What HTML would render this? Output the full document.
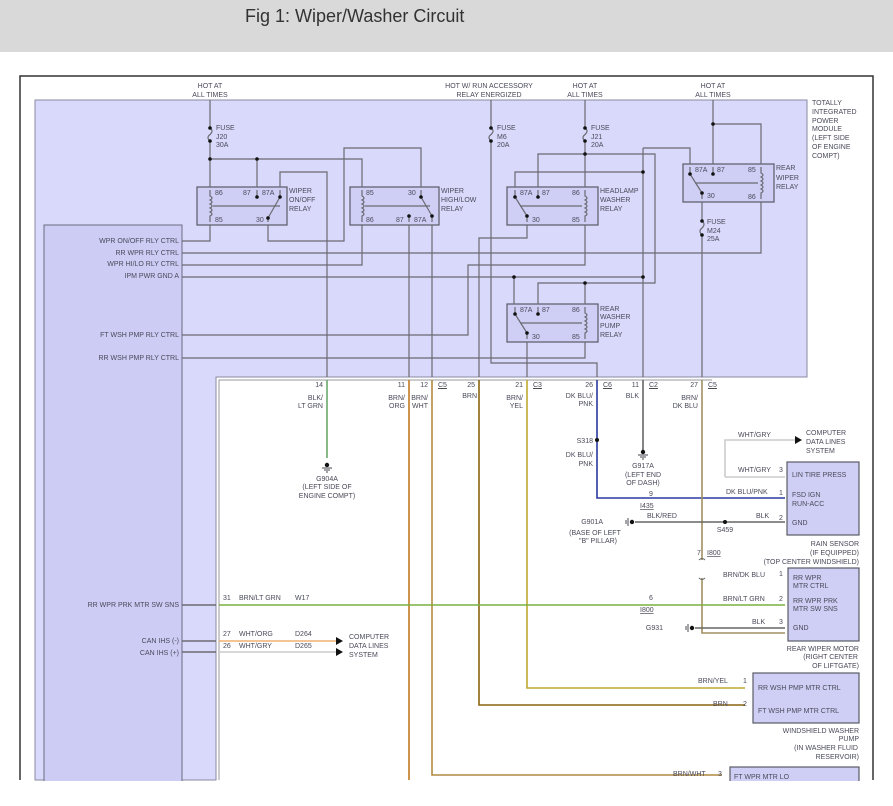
<!DOCTYPE html>
<html><head><meta charset="utf-8"><style>
body{margin:0;background:#fff;width:893px;height:806px;overflow:hidden;font-family:"Liberation Sans",sans-serif}
#hd{position:absolute;left:0;top:0;width:893px;height:52px;background:#d9d9d9}
#hd span{position:absolute;left:245px;top:6px;font-size:18px;color:#333}
svg{position:absolute;left:0;top:0}
text{font-family:"Liberation Sans",sans-serif;font-size:7px;fill:#4a4a5a}
.w{fill:none;stroke:#6a6a72;stroke-width:1.2}
.b{fill:#cfcff6;stroke:#5a5a66;stroke-width:1.2}
.d{fill:#111}
</style></head><body>
<div id="hd"><span>Fig 1: Wiper/Washer Circuit</span></div>
<svg width="893" height="806" viewBox="0 0 893 806">
<!-- frame -->
<path d="M20,780 V76 H873 V780" fill="none" stroke="#333" stroke-width="1.5"/>
<!-- module -->
<path d="M35,100 H807 V377 H216 V780 H35 Z" fill="#d9d9fb" stroke="#8a8aa0" stroke-width="1"/>
<rect x="44" y="225" width="138" height="560" fill="#ccccf5" stroke="#6a6a80" stroke-width="1"/>
<!-- top labels -->
<g text-anchor="middle">
<text x="210" y="88">HOT AT</text><text x="210" y="97">ALL TIMES</text>
<text x="489" y="88">HOT W/ RUN ACCESSORY</text><text x="489" y="97">RELAY ENERGIZED</text>
<text x="585" y="88">HOT AT</text><text x="585" y="97">ALL TIMES</text>
<text x="713" y="88">HOT AT</text><text x="713" y="97">ALL TIMES</text>
</g>
<g><text x="812" y="105">TOTALLY</text><text x="812" y="114">INTEGRATED</text><text x="812" y="123">POWER</text><text x="812" y="131">MODULE</text><text x="812" y="140">(LEFT SIDE</text><text x="812" y="149">OF ENGINE</text><text x="812" y="158">COMPT)</text></g>
<!-- relay boxes -->
<rect class="b" x="197" y="187" width="90" height="38"/>
<rect class="b" x="350" y="187" width="89" height="38"/>
<rect class="b" x="507" y="187" width="91" height="38"/>
<rect class="b" x="683" y="164" width="91" height="38"/>
<rect class="b" x="507" y="304" width="91" height="38"/>
<g class="w" stroke-width="0.8">
<path d="M213,206 H280"/><path d="M365,206 H430"/><path d="M520,206 H582"/><path d="M695,183 H758"/><path d="M520,323 H582"/>
</g>
<!-- coils -->
<g class="w" stroke-width="1">
<path d="M210,190 v6 q4,2 0,4 q4,2 0,4 q4,2 0,4 q4,2 0,4 q4,2 0,4 v6"/>
<path d="M362,190 v6 q4,2 0,4 q4,2 0,4 q4,2 0,4 q4,2 0,4 q4,2 0,4 v6"/>
<path d="M585,190 v6 q4,2 0,4 q4,2 0,4 q4,2 0,4 q4,2 0,4 q4,2 0,4 v6"/>
<path d="M761,167 v6 q4,2 0,4 q4,2 0,4 q4,2 0,4 q4,2 0,4 q4,2 0,4 v6"/>
<path d="M585,307 v6 q4,2 0,4 q4,2 0,4 q4,2 0,4 q4,2 0,4 q4,2 0,4 v6"/>
</g>
<!-- switches -->
<g class="w" stroke-width="1.2">
<path d="M268,218 L280,197 M257,198 v-8 M280,197 v-7 M268,218 v4"/>
<path d="M421,197 L432,216 M421,197 v-7 M409,216 v6 M432,216 v6"/>
<path d="M515,197 L527,216 M515,197 v-7 M538,198 v-8 M527,216 v6"/>
<path d="M690,174 L702,193 M690,174 v-7 M713,175 v-8 M702,193 v6"/>
<path d="M515,314 L527,333 M515,314 v-7 M538,315 v-8 M527,333 v6"/>
</g>
<g class="d">
<circle cx="268" cy="218" r="1.8"/><circle cx="280" cy="197" r="1.8"/><circle cx="257" cy="197" r="1.8"/>
<circle cx="421" cy="197" r="1.8"/><circle cx="432" cy="216" r="1.8"/><circle cx="409" cy="216" r="1.8"/>
<circle cx="515" cy="197" r="1.8"/><circle cx="527" cy="216" r="1.8"/><circle cx="538" cy="197" r="1.8"/>
<circle cx="690" cy="174" r="1.8"/><circle cx="702" cy="193" r="1.8"/><circle cx="713" cy="174" r="1.8"/>
<circle cx="515" cy="314" r="1.8"/><circle cx="527" cy="333" r="1.8"/><circle cx="538" cy="314" r="1.8"/>
</g>
<!-- pin numbers -->
<g>
<text x="215" y="195">86</text><text x="243" y="195">87</text><text x="262" y="195">87A</text><text x="215" y="222">85</text><text x="256" y="222">30</text>
<text x="366" y="195">85</text><text x="408" y="195">30</text><text x="366" y="222">86</text><text x="396" y="222">87</text><text x="414" y="222">87A</text>
<text x="520" y="195">87A</text><text x="542" y="195">87</text><text x="572" y="195">86</text><text x="532" y="222">30</text><text x="572" y="222">85</text>
<text x="695" y="172">87A</text><text x="717" y="172">87</text><text x="748" y="172">85</text><text x="707" y="198">30</text><text x="748" y="199">86</text>
<text x="520" y="312">87A</text><text x="542" y="312">87</text><text x="572" y="312">86</text><text x="532" y="339">30</text><text x="572" y="339">85</text>
</g>
<g>
<text x="289" y="193">WIPER</text><text x="289" y="202">ON/OFF</text><text x="289" y="211">RELAY</text>
<text x="441" y="193">WIPER</text><text x="441" y="202">HIGH/LOW</text><text x="441" y="211">RELAY</text>
<text x="600" y="193">HEADLAMP</text><text x="600" y="202">WASHER</text><text x="600" y="211">RELAY</text>
<text x="776" y="170">REAR</text><text x="776" y="180">WIPER</text><text x="776" y="189">RELAY</text>
<text x="600" y="311">REAR</text><text x="600" y="319">WASHER</text><text x="600" y="328">PUMP</text><text x="600" y="337">RELAY</text>
<text x="216" y="130">FUSE</text><text x="216" y="139">J20</text><text x="216" y="147">30A</text>
<text x="497" y="130">FUSE</text><text x="497" y="139">M6</text><text x="497" y="147">20A</text>
<text x="591" y="130">FUSE</text><text x="591" y="139">J21</text><text x="591" y="147">20A</text>
<text x="707" y="224">FUSE</text><text x="707" y="233">M24</text><text x="707" y="241">25A</text>
</g>
<!-- module wires -->
<g class="w">
<path d="M210,100 V128 M210,141 V187 M210,128 q4,3 0,6.5 q-4,3 0,6.5"/>
<path d="M210,159 H362 V187 M257,159 V187"/>
<path d="M280,187 V172 H327 V377"/>
<path d="M268,225 V241 H344 V148 H421 V187"/>
<path d="M210,225 V241 H182"/>
<path d="M362,225 V265 H182"/>
<path d="M409,225 V377 M432,225 V377"/>
<path d="M182,253 H761 V202"/>
<path d="M182,277 H643 M514,277 V304"/>
<path d="M491,100 V128 M491,141 V363 H597 V377 M491,128 q4,3 0,6.5 q-4,3 0,6.5"/>
<path d="M585,100 V128 M585,141 V187 M585,128 q4,3 0,6.5 q-4,3 0,6.5"/>
<path d="M538,187 V154 H655 V283 H538 V304 M585,283 V304"/>
<path d="M515,187 V172 H643 M643,148 V377 M643,148 H690 V164"/>
<path d="M527,225 V238 H479 V377"/>
<path d="M585,225 V265 H468 V335 H182"/>
<path d="M713,100 V164 M713,124 H761 V164"/>
<path d="M702,202 V221 M702,235 V377 M702,221 q4,3 0,7 q-4,3 0,7"/>
<path d="M527,342 V377"/>
<path d="M585,342 V358 H182"/>
<path d="M182,605 H216 M182,641 H216 M182,652 H216" stroke-width="1.4"/>
</g>
<g class="d">
<circle cx="210" cy="128" r="1.8"/><circle cx="210" cy="141" r="1.8"/><circle cx="491" cy="128" r="1.8"/><circle cx="491" cy="141" r="1.8"/>
<circle cx="585" cy="128" r="1.8"/><circle cx="585" cy="141" r="1.8"/><circle cx="702" cy="221" r="1.8"/><circle cx="702" cy="235" r="1.8"/>
<circle cx="210" cy="159" r="1.8"/><circle cx="257" cy="159" r="1.8"/><circle cx="585" cy="154" r="1.8"/><circle cx="643" cy="172" r="1.8"/>
<circle cx="514" cy="277" r="1.8"/><circle cx="643" cy="277" r="1.8"/><circle cx="585" cy="283" r="1.8"/><circle cx="713" cy="124" r="1.8"/>
</g>
<!-- left labels -->
<g text-anchor="end">
<text x="179" y="243">WPR ON/OFF RLY CTRL</text><text x="179" y="255">RR WPR RLY CTRL</text><text x="179" y="266">WPR HI/LO RLY CTRL</text><text x="179" y="278">IPM PWR GND A</text>
<text x="179" y="337">FT WSH PMP RLY CTRL</text><text x="179" y="360">RR WSH PMP RLY CTRL</text>
<text x="179" y="607">RR WPR PRK MTR SW SNS</text><text x="179" y="643">CAN IHS (-)</text><text x="179" y="655">CAN IHS (+)</text>
</g>
<!-- connector line -->
<path d="M219,780 V380 H712" fill="none" stroke="#9a9aa0" stroke-width="1"/>
<g text-anchor="end">
<text x="323" y="387">14</text><text x="405" y="387">11</text><text x="428" y="387">12</text><text x="475" y="387">25</text><text x="523" y="387">21</text><text x="593" y="387">26</text><text x="639" y="387">11</text><text x="698" y="387">27</text>
<text x="323" y="400">BLK/</text><text x="323" y="408">LT GRN</text><text x="405" y="400">BRN/</text><text x="405" y="408">ORG</text><text x="428" y="400">BRN/</text><text x="428" y="408">WHT</text>
<text x="477" y="398">BRN</text><text x="523" y="400">BRN/</text><text x="523" y="408">YEL</text><text x="593" y="398">DK BLU/</text><text x="593" y="406">PNK</text><text x="639" y="398">BLK</text>
<text x="698" y="400">BRN/</text><text x="698" y="408">DK BLU</text>
<text x="593" y="457">DK BLU/</text><text x="593" y="466">PNK</text><text x="593" y="443">S318</text>
</g>
<g text-decoration="underline"><text x="438" y="387">C5</text><text x="533" y="387">C3</text><text x="603" y="387">C6</text><text x="649" y="387">C2</text><text x="708" y="387">C5</text></g>
<!-- colored wires -->
<g fill="none" stroke-width="1.6">
<path d="M327,380 V458" stroke="#6aa86a"/>
<path d="M409,380 V780" stroke="#c07a20"/>
<path d="M432,380 V775 H722" stroke="#b08a40"/>
<path d="M479,380 V705 H745" stroke="#8a6410"/>
<path d="M527,380 V688 H745" stroke="#c0a830"/>
<path d="M597,380 V498 H785" stroke="#2a3aa0"/>
<path d="M643,380 V450" stroke="#666"/>
<path d="M702,380 V560 M702,578 V633 H785" stroke="#a09060"/>
<path d="M219,605 H785" stroke="#7ab040"/>
<path d="M219,641 H340" stroke="#f0b070"/>
<path d="M219,652 H340" stroke="#ccc"/>
<path d="M725,477 V440 H795 M725,477 H785" stroke="#ccc"/>
<path d="M635,522 H785" stroke="#666"/>
<path d="M695,628 H785" stroke="#666"/>
</g>
<g class="d"><circle cx="597" cy="440" r="2"/><circle cx="725" cy="522" r="2"/><circle cx="327" cy="465" r="2.2"/><circle cx="643" cy="452" r="2.2"/><circle cx="632" cy="522" r="2.2"/><circle cx="692" cy="628" r="2.2"/>
<path d="M336,637 l7,4 l-7,4 Z M336,648 l7,4 l-7,4 Z M795,436 l7,4 l-7,4 Z"/></g>
<g class="w" stroke-width="0.8"><path d="M322,468 h10 M324,470 h6 M326,472 h2 M638,455 h10 M640,457 h6 M642,459 h2 M628,518 v8 M626,520 v4 M688,624 v8 M686,626 v4"/></g>
<g text-anchor="middle"><text x="327" y="481">G904A</text><text x="327" y="489">(LEFT SIDE OF</text><text x="327" y="498">ENGINE COMPT)</text>
<text x="643" y="468">G917A</text><text x="643" y="477">(LEFT END</text><text x="643" y="485">OF DASH)</text>
<text x="595" y="535">(BASE OF LEFT</text><text x="598" y="543">"B" PILLAR)</text><text x="725" y="532">S459</text></g>
<g>
<text x="603" y="524" text-anchor="end">G901A</text><text x="663" y="630" text-anchor="end">G931</text>
<text x="647" y="518">BLK/RED</text><text x="756" y="518">BLK</text><text x="726" y="494">DK BLU/PNK</text><text x="738" y="437">WHT/GRY</text><text x="738" y="472">WHT/GRY</text>
<text x="806" y="435">COMPUTER</text><text x="806" y="444">DATA LINES</text><text x="806" y="453">SYSTEM</text>
<text x="649" y="496">9</text><text x="640" y="508" text-decoration="underline">I435</text>
<text x="697" y="555">7</text><text x="707" y="555" text-decoration="underline">I800</text>
<text x="649" y="600">6</text><text x="640" y="612" text-decoration="underline">I800</text>
<text x="723" y="577">BRN/DK BLU</text><text x="723" y="601">BRN/LT GRN</text><text x="752" y="624">BLK</text>
<text x="779" y="472">3</text><text x="779" y="495">1</text><text x="779" y="520">2</text>
<text x="779" y="576">1</text><text x="779" y="601">2</text><text x="779" y="624">3</text>
<text x="743" y="683">1</text><text x="743" y="706">2</text><text x="718" y="776">3</text>
<text x="698" y="683">BRN/YEL</text><text x="713" y="706">BRN</text><text x="673" y="776">BRN/WHT</text>
<text x="223" y="600">31</text><text x="239" y="600">BRN/LT GRN</text><text x="295" y="600">W17</text>
<text x="223" y="636">27</text><text x="239" y="636">WHT/ORG</text><text x="295" y="636">D264</text>
<text x="223" y="648">26</text><text x="239" y="648">WHT/GRY</text><text x="295" y="648">D265</text>
<text x="349" y="639">COMPUTER</text><text x="349" y="648">DATA LINES</text><text x="349" y="657">SYSTEM</text>
</g>
<path d="M699,560 q3,-3 6,0 M699,578 q3,3 6,0" fill="none" stroke="#666"/>
<!-- right boxes -->
<rect class="b" x="787" y="462" width="72" height="73"/>
<rect class="b" x="788" y="568" width="71" height="73"/>
<rect class="b" x="753" y="673" width="106" height="50"/>
<rect class="b" x="730" y="767" width="129" height="20"/>
<g>
<text x="792" y="477">LIN TIRE PRESS</text><text x="792" y="497">FSD IGN</text><text x="792" y="506">RUN-ACC</text><text x="792" y="525">GND</text>
<text x="793" y="580">RR WPR</text><text x="793" y="588">MTR CTRL</text><text x="793" y="603">RR WPR PRK</text><text x="793" y="611">MTR SW SNS</text><text x="793" y="630">GND</text>
<text x="758" y="690">RR WSH PMP MTR CTRL</text><text x="758" y="713">FT WSH PMP MTR CTRL</text><text x="734" y="779">FT WPR MTR LO</text>
</g>
<g text-anchor="end">
<text x="859" y="546">RAIN SENSOR</text><text x="859" y="555">(IF EQUIPPED)</text><text x="859" y="564">(TOP CENTER WINDSHIELD)</text>
<text x="859" y="651">REAR WIPER MOTOR</text><text x="858" y="659">(RIGHT CENTER</text><text x="859" y="668">OF LIFTGATE)</text>
<text x="859" y="733">WINDSHIELD WASHER</text><text x="859" y="741">PUMP</text><text x="858" y="750">(IN WASHER FLUID</text><text x="859" y="759">RESERVOIR)</text>
</g>
<rect x="0" y="781" width="893" height="25" fill="#fff"/>
</svg>
</body></html>
